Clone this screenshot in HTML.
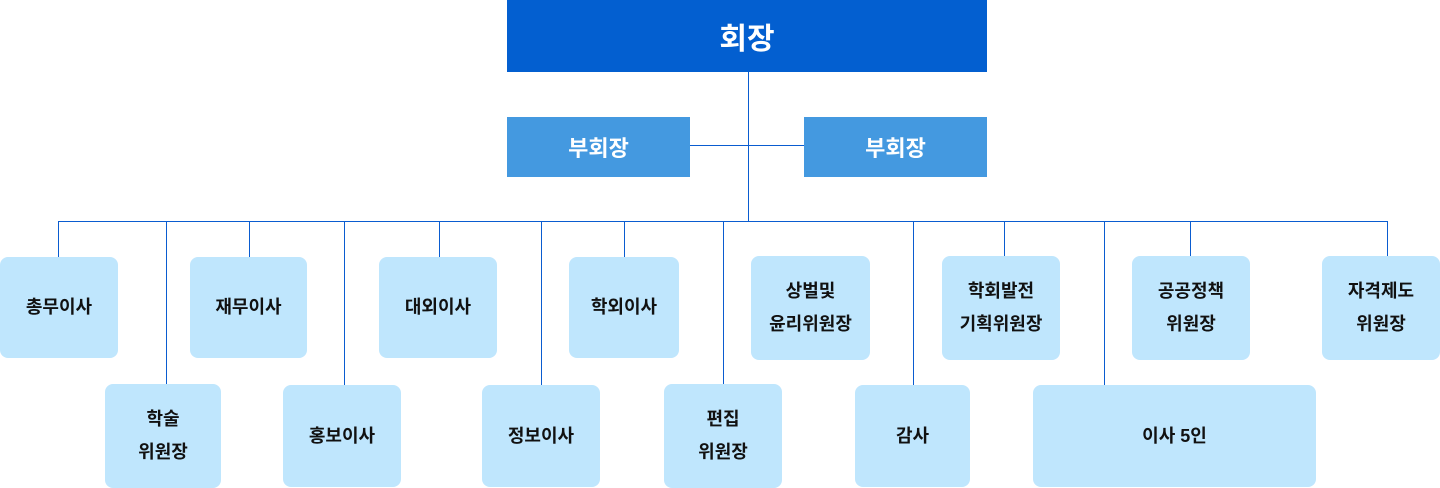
<!DOCTYPE html>
<html><head><meta charset="utf-8">
<style>
html,body{margin:0;padding:0;background:#fff;}
body{width:1440px;height:488px;position:relative;overflow:hidden;font-family:"Liberation Sans","Noto Sans CJK KR",sans-serif;}
.b{position:absolute;display:flex;align-items:center;justify-content:center;text-align:center;box-sizing:border-box;}
.n{background:#bfe6fd;border-radius:8px;color:#111;font-weight:bold;font-size:18px;line-height:33px;}
.l{position:absolute;background:#0a5cd0;}
</style></head><body>
<div class="b" style="left:507px;top:0;width:480px;height:72px;background:#035fd0;color:#fff;font-weight:bold;font-size:30px;">회장</div>
<div class="b" style="left:507px;top:117px;width:183px;height:60px;background:#4499e0;color:#fff;font-weight:bold;font-size:22px;">부회장</div>
<div class="b" style="left:804px;top:117px;width:183px;height:60px;background:#4499e0;color:#fff;font-weight:bold;font-size:22px;">부회장</div>
<div class="l" style="left:748px;top:72px;width:1px;height:149px;"></div>
<div class="l" style="left:690px;top:145px;width:114px;height:1px;"></div>
<div class="l" style="left:58px;top:221px;width:1330px;height:1px;"></div>
<div class="l" style="left:58px;top:221px;width:1px;height:36px;"></div>
<div class="l" style="left:249px;top:221px;width:1px;height:36px;"></div>
<div class="l" style="left:439px;top:221px;width:1px;height:36px;"></div>
<div class="l" style="left:624px;top:221px;width:1px;height:36px;"></div>
<div class="l" style="left:1004px;top:221px;width:1px;height:36px;"></div>
<div class="l" style="left:1190px;top:221px;width:1px;height:36px;"></div>
<div class="l" style="left:1387px;top:221px;width:1px;height:36px;"></div>
<div class="l" style="left:166px;top:221px;width:1px;height:163px;"></div>
<div class="l" style="left:344px;top:221px;width:1px;height:164px;"></div>
<div class="l" style="left:541px;top:221px;width:1px;height:164px;"></div>
<div class="l" style="left:723px;top:221px;width:1px;height:163px;"></div>
<div class="l" style="left:913px;top:221px;width:1px;height:164px;"></div>
<div class="l" style="left:1104px;top:221px;width:1px;height:164px;"></div>
<div class="b n" style="left:0;top:257px;width:118px;height:101px;">총무이사</div>
<div class="b n" style="left:190px;top:257px;width:117px;height:101px;">재무이사</div>
<div class="b n" style="left:379px;top:257px;width:118px;height:101px;">대외이사</div>
<div class="b n" style="left:569px;top:257px;width:110px;height:101px;">학외이사</div>
<div class="b n" style="left:751px;top:256px;width:119px;height:104px;">상벌및<br>윤리위원장</div>
<div class="b n" style="left:942px;top:256px;width:118px;height:104px;">학회발전<br>기획위원장</div>
<div class="b n" style="left:1132px;top:256px;width:118px;height:104px;">공공정책<br>위원장</div>
<div class="b n" style="left:1322px;top:256px;width:118px;height:104px;">자격제도<br>위원장</div>
<div class="b n" style="left:105px;top:384px;width:116px;height:104px;">학술<br>위원장</div>
<div class="b n" style="left:283px;top:385px;width:118px;height:102px;">홍보이사</div>
<div class="b n" style="left:482px;top:385px;width:118px;height:102px;">정보이사</div>
<div class="b n" style="left:664px;top:384px;width:118px;height:104px;">편집<br>위원장</div>
<div class="b n" style="left:855px;top:385px;width:115px;height:102px;">감사</div>
<div class="b n" style="left:1033px;top:385px;width:283px;height:102px;">이사 5인</div>
</body></html>
